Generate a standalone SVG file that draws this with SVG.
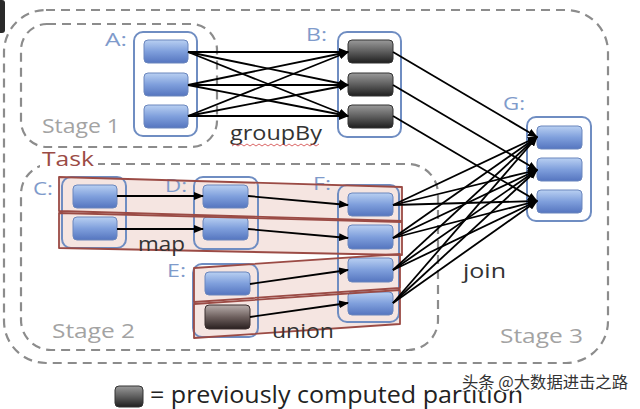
<svg xmlns="http://www.w3.org/2000/svg" width="640" height="409" viewBox="0 0 640 409">
<defs>
<linearGradient id="gBlue" x1="0" y1="0" x2="0" y2="1">
<stop offset="0" stop-color="#b9d0f2"/><stop offset="0.5" stop-color="#7f9fdc"/><stop offset="1" stop-color="#5575bf"/>
</linearGradient>
<linearGradient id="gDark" x1="0" y1="0" x2="0" y2="1">
<stop offset="0" stop-color="#9a9a9a"/><stop offset="0.5" stop-color="#5e5e5e"/><stop offset="1" stop-color="#1f1f1f"/>
</linearGradient>
<linearGradient id="gBrown" x1="0" y1="0" x2="0" y2="1">
<stop offset="0" stop-color="#b9aeac"/><stop offset="0.5" stop-color="#6e605e"/><stop offset="1" stop-color="#2a2020"/>
</linearGradient>
<marker id="arr" markerUnits="userSpaceOnUse" markerWidth="10" markerHeight="8" refX="9" refY="4" orient="auto">
<path d="M0,0 L10,4 L0,8 z" fill="#000"/>
</marker>
<style>
.stage{fill:none;stroke:#8c8c8c;stroke-width:2.2;stroke-dasharray:9 6}
.cont{fill:#fff;stroke:#6f8dc2;stroke-width:2}
.contn{fill:none;stroke:#6f8dc2;stroke-width:2}
.p{fill:url(#gBlue);stroke:#6a86bd;stroke-width:1}
.pd{fill:url(#gDark);stroke:#333;stroke-width:1}
.lbl{font-family:"Open Sans","Liberation Sans",sans-serif;font-size:19px;fill:#7f9bcb}
.st{font-family:"Open Sans","Liberation Sans",sans-serif;font-size:20px;fill:#a3a3a3}
.op{font-family:"Open Sans","Liberation Sans",sans-serif;font-size:20px;fill:#333}
.taskf{fill:#efd3cd;fill-opacity:0.6;stroke:none}
.task{fill:none;stroke:#9b4b45;stroke-width:1.8;stroke-linejoin:round}
#connectors line{stroke:#000;stroke-width:1.8;marker-end:url(#arr)}
</style>
</defs>
<rect x="0" y="0" width="640" height="409" fill="#fff"/>
<rect x="-4" y="0" width="9" height="33" rx="3" fill="#2a2a2a"/>

<g id="stage3">
<rect class="stage" x="4" y="10" width="604" height="353" rx="42"/>
<text class="st" x="500" y="343" textLength="83" lengthAdjust="spacingAndGlyphs">Stage 3</text>
</g>
<g id="stage1">
<rect class="stage" x="21" y="24" width="196" height="123" rx="26"/>
<text class="st" x="42" y="133" textLength="78" lengthAdjust="spacingAndGlyphs">Stage 1</text>
</g>
<g id="stage2">
<rect class="stage" x="21" y="164" width="417" height="186" rx="30"/>
<rect x="40" y="150" width="58" height="20" fill="#fff"/>
<text x="42" y="166" font-family="'Open Sans','Liberation Sans',sans-serif" font-size="20" fill="#9b4b45" textLength="52" lengthAdjust="spacingAndGlyphs">Task</text>
<text class="st" x="52" y="338" textLength="83" lengthAdjust="spacingAndGlyphs">Stage 2</text>
</g>

<g id="taskfills">
<polygon class="taskf" points="59,177 402,187 402,221 59,211"/>
<polygon class="taskf" points="59,213 402,222 402,255 59,248"/>
<polygon class="taskf" points="194,268 400,254 400,288 194,302"/>
<polygon class="taskf" points="194,304 400,290 400,324 194,338"/>
</g>

<g id="A">
<text class="lbl" x="105" y="46" textLength="22" lengthAdjust="spacingAndGlyphs">A:</text>
<rect class="cont" x="134" y="32" width="63" height="104" rx="9"/>
<rect class="p" x="144" y="40" width="44" height="23" rx="4"/>
<rect class="p" x="144" y="73" width="44" height="23" rx="4"/>
<rect class="p" x="144" y="105" width="44" height="23" rx="4"/>
</g>
<g id="B">
<text class="lbl" x="306" y="41" textLength="21" lengthAdjust="spacingAndGlyphs">B:</text>
<rect class="cont" x="338" y="32" width="63" height="105" rx="9"/>
<rect class="pd" x="348" y="40" width="45" height="23" rx="4"/>
<rect class="pd" x="348" y="73" width="45" height="23" rx="4"/>
<rect class="pd" x="348" y="105" width="45" height="23" rx="4"/>
</g>
<g id="G">
<text class="lbl" x="503" y="110" textLength="22" lengthAdjust="spacingAndGlyphs">G:</text>
<rect class="cont" x="527" y="117" width="64" height="104" rx="9"/>
<rect class="p" x="537" y="126" width="45" height="23" rx="4"/>
<rect class="p" x="537" y="158" width="45" height="23" rx="4"/>
<rect class="p" x="537" y="190" width="45" height="23" rx="4"/>
</g>
<g id="C">
<text class="lbl" x="33" y="195" textLength="20" lengthAdjust="spacingAndGlyphs">C:</text>
<rect class="contn" x="62" y="177" width="64" height="71" rx="9"/>
<rect class="p" x="73" y="185" width="44" height="23" rx="4"/>
<rect class="p" x="73" y="217" width="44" height="23" rx="4"/>
</g>
<g id="D">
<text class="lbl" x="165" y="192" textLength="22" lengthAdjust="spacingAndGlyphs">D:</text>
<rect class="contn" x="194" y="177" width="64" height="72" rx="9"/>
<rect class="p" x="203" y="185" width="45" height="23" rx="4"/>
<rect class="p" x="203" y="217" width="45" height="23" rx="4"/>
</g>
<g id="E">
<text class="lbl" x="167" y="277" textLength="19" lengthAdjust="spacingAndGlyphs">E:</text>
<rect class="contn" x="193" y="264" width="65" height="73" rx="9"/>
<rect class="p" x="205" y="272" width="45" height="23" rx="4"/>
<rect x="205" y="305" width="45" height="24" rx="4" fill="url(#gBrown)" stroke="#3a2e2e" stroke-width="1"/>
</g>
<g id="F">
<text class="lbl" x="313" y="190" textLength="18" lengthAdjust="spacingAndGlyphs">F:</text>
<rect class="contn" x="338" y="185" width="61" height="137" rx="9"/>
<rect class="p" x="348" y="193" width="45" height="23" rx="4"/>
<rect class="p" x="348" y="225" width="45" height="24" rx="4"/>
<rect class="p" x="348" y="258" width="45" height="24" rx="4"/>
<rect class="p" x="348" y="292" width="45" height="23" rx="4"/>
</g>

<g id="tasks">
<polygon class="task" points="59,177 402,187 402,221 59,211"/>
<polygon class="task" points="59,213 402,222 402,255 59,248"/>
<polygon class="task" points="194,268 400,254 400,288 194,302"/>
<polygon class="task" points="194,304 400,290 400,324 194,338"/>
</g>

<g id="labels">
<text class="op" x="230" y="140" textLength="92" lengthAdjust="spacingAndGlyphs">groupBy</text>
<path d="M232,146 l3,-2 l3,2 l3,-2 l3,2 l3,-2 l3,2 l3,-2 l3,2 l3,-2 l3,2 l3,-2 l3,2 l3,-2 l3,2 l3,-2 l3,2 l3,-2 l3,2 l3,-2 l3,2 l3,-2 l3,2 l3,-2 l3,2 l3,-2 l3,2 l3,-2 l3,2 l3,-2" fill="none" stroke="#d04040" stroke-width="0.8"/>
<text class="op" x="138" y="251" textLength="47" lengthAdjust="spacingAndGlyphs">map</text>
<text class="op" x="272" y="338" textLength="62" lengthAdjust="spacingAndGlyphs">union</text>
<text class="op" x="463" y="278" textLength="43" lengthAdjust="spacingAndGlyphs">join</text>
</g>

<g id="connectors">
<line x1="188" y1="52" x2="348" y2="52"/>
<line x1="188" y1="52" x2="348" y2="85"/>
<line x1="188" y1="52" x2="348" y2="116"/>
<line x1="188" y1="85" x2="348" y2="52"/>
<line x1="188" y1="85" x2="348" y2="85"/>
<line x1="188" y1="85" x2="348" y2="116"/>
<line x1="188" y1="116" x2="348" y2="52"/>
<line x1="188" y1="116" x2="348" y2="85"/>
<line x1="188" y1="116" x2="348" y2="116"/>
<line x1="393" y1="52" x2="537" y2="137"/>
<line x1="393" y1="85" x2="537" y2="170"/>
<line x1="393" y1="116" x2="537" y2="201"/>
<line x1="117" y1="196" x2="203" y2="196"/>
<line x1="117" y1="229" x2="203" y2="229"/>
<line x1="248" y1="196" x2="348" y2="205"/>
<line x1="248" y1="229" x2="348" y2="238"/>
<line x1="250" y1="284" x2="348" y2="270"/>
<line x1="250" y1="317" x2="348" y2="303"/>
<line x1="393" y1="205" x2="537" y2="137"/>
<line x1="393" y1="205" x2="537" y2="170"/>
<line x1="393" y1="205" x2="537" y2="201"/>
<line x1="393" y1="238" x2="537" y2="137"/>
<line x1="393" y1="238" x2="537" y2="170"/>
<line x1="393" y1="238" x2="537" y2="201"/>
<line x1="393" y1="270" x2="537" y2="137"/>
<line x1="393" y1="270" x2="537" y2="170"/>
<line x1="393" y1="270" x2="537" y2="201"/>
<line x1="393" y1="303" x2="537" y2="137"/>
<line x1="393" y1="303" x2="537" y2="170"/>
<line x1="393" y1="303" x2="537" y2="201"/>
</g>

<g id="legend">
<rect x="115" y="386" width="28" height="21" rx="4" fill="url(#gDark)" stroke="#333" stroke-width="1"/>
<text x="150" y="403" font-family="'Open Sans','Liberation Sans',sans-serif" font-size="23" fill="#222" textLength="373" lengthAdjust="spacingAndGlyphs">= previously computed partition</text>
</g>
<g id="watermark">
<text x="462" y="388" font-family="'Noto Sans CJK SC','Noto Sans',sans-serif" font-size="16" fill="#333" stroke="#fff" stroke-width="3" paint-order="stroke" textLength="166" lengthAdjust="spacingAndGlyphs">头条 @大数据进击之路</text>
</g>
</svg>
